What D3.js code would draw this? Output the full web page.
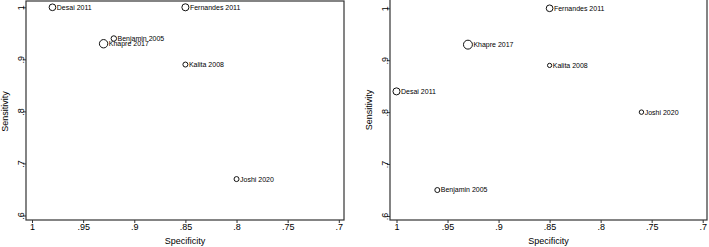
<!DOCTYPE html>
<html>
<head>
<meta charset="utf-8">
<script src="https://cdn.jsdelivr.net/npm/d3@7"></script>
<style>
  body { margin: 0; background: #fff; }
  svg text { font-family: "Liberation Sans", Arial, sans-serif; fill: #000; }
</style>
</head>
<body>
<div id="chart"></div>
<script>
// study labels and per-study estimates
const studies = ['Desai 2011', 'Fernandes 2011', 'Benjamin 2005', 'Khapre 2017', 'Kalita 2008', 'Joshi 2020'];

const specLeft = [0.98, 0.85, 0.92, 0.93, 0.85, 0.80];
const sensLeft = [1.00, 1.00, 0.94, 0.93, 0.89, 0.67];
const weightLeft = [45, 50, 30, 70, 25, 25];

const specRight = [1.00, 0.85, 0.96, 0.93, 0.85, 0.76];
const sensRight = [0.84, 1.00, 0.65, 0.93, 0.89, 0.80];
const weightRight = [50, 45, 25, 80, 18, 20];

const xTicks = [1, 0.95, 0.9, 0.85, 0.8, 0.75, 0.7];
const yTicks = [0.6, 0.7, 0.8, 0.9, 1];

const W = 709, H = 247;
const LINE = '#333';

// stata style: drop leading zero
const fmt = v => v === 1 ? '1' : d3.format('.2~f')(v).replace(/^0/, '');

const svg = d3.select('#chart').append('svg')
    .attr('width', W)
    .attr('height', H);

const rScale = d3.scaleSqrt().domain([0, 100]).range([0, 5]);

function drawPanel(p, spec, sens, weight) {
    const g = svg.append('g');

    const x = d3.scaleLinear().domain([1, 0.7]).range([p.xr0, p.xr1]);
    const y = d3.scaleLinear().domain([0.6, 1]).range([p.yr0, p.yr1]);

    // frame
    g.append('rect')
        .attr('x', p.left).attr('y', p.top)
        .attr('width', p.right - p.left).attr('height', p.bottom - p.top)
        .attr('fill', 'none').attr('stroke', LINE).attr('stroke-width', 1.2);

    // x axis
    const xAxis = g.append('g')
        .attr('transform', `translate(0,${p.bottom})`)
        .call(d3.axisBottom(x).tickValues(xTicks).tickFormat(fmt).tickSize(3).tickPadding(1));
    xAxis.select('.domain').remove();
    xAxis.selectAll('line').attr('stroke', LINE);
    xAxis.selectAll('text').attr('font-size', 9).attr('fill', '#000')
        .style('font-family', '"Liberation Sans", Arial, sans-serif');

    // y axis with rotated labels
    const yAxis = g.append('g')
        .attr('transform', `translate(${p.left},0)`)
        .call(d3.axisLeft(y).tickValues(yTicks).tickFormat(fmt).tickSize(3));
    yAxis.select('.domain').remove();
    yAxis.selectAll('line').attr('stroke', LINE);
    yAxis.selectAll('text')
        .attr('font-size', 9).attr('fill', '#000')
        .style('font-family', '"Liberation Sans", Arial, sans-serif')
        .attr('x', null).attr('dy', null)
        .attr('text-anchor', 'middle')
        .attr('transform', 'translate(-2,0) rotate(-90)');

    // axis titles
    g.append('text')
        .attr('x', (p.left + p.right) / 2).attr('y', 244)
        .attr('text-anchor', 'middle').attr('font-size', 9)
        .text('Specificity');
    g.append('text')
        .attr('transform', `translate(${p.left - 18},${(p.top + p.bottom) / 2 + 1}) rotate(-90)`)
        .attr('text-anchor', 'middle').attr('font-size', 9)
        .text('Sensitivity');

    const pts = studies.map((s, i) => ({name: s, spec: spec[i], sens: sens[i], w: weight[i]}));

    g.selectAll('circle')
        .data(pts)
        .enter()
        .append('circle')
        .attr('cx', d => x(d.spec))
        .attr('cy', d => y(d.sens))
        .attr('r', d => rScale(d.w))
        .attr('fill', 'none')
        .attr('stroke', '#111')
        .attr('stroke-width', 1);

    g.selectAll('.lbl')
        .data(pts)
        .enter()
        .append('text')
        .classed('lbl', true)
        .attr('x', d => x(d.spec) + rScale(d.w) + 1)
        .attr('y', d => y(d.sens))
        .attr('dy', '0.35em')
        .attr('font-size', 7)
        .text(d => d.name);
}

drawPanel({left: 26, right: 344, top: 1, bottom: 220, xr0: 32, xr1: 338.8, yr0: 215.5, yr1: 7.3},
    specLeft, sensLeft, weightLeft);
drawPanel({left: 390, right: 707, top: -2, bottom: 220, xr0: 396.5, xr1: 702.7, yr0: 216, yr1: 8.3},
    specRight, sensRight, weightRight);
</script>
</body>
</html>
